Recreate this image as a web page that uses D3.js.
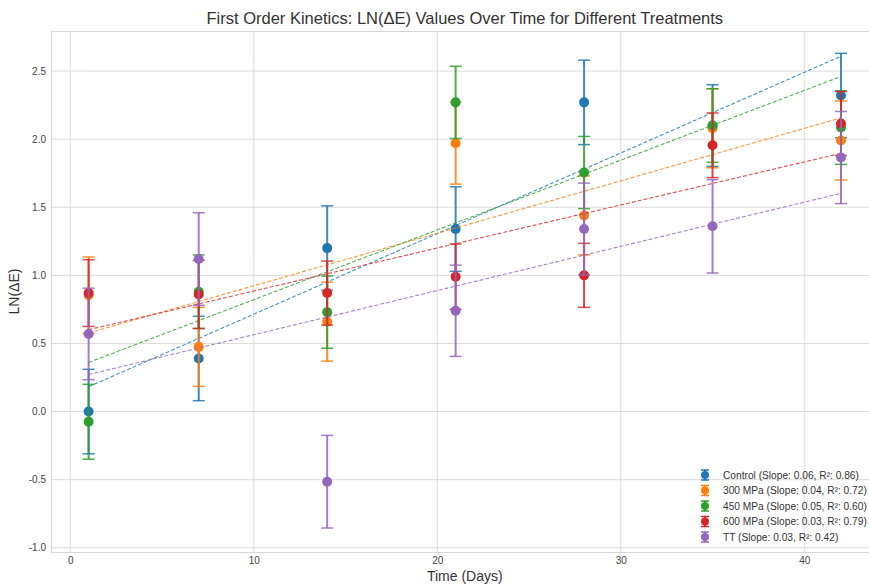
<!DOCTYPE html>
<html>
<head>
<meta charset="utf-8">
<script src="https://cdn.jsdelivr.net/npm/d3@7"></script>
<style>
  body { margin: 0; background: #fff; }
  text { font-family: "Liberation Sans", Arial, sans-serif; }
</style>
</head>
<body>
<svg id="chart" width="869" height="586"></svg>
<script>
// Sampling days and treatments
const days = [1, 7, 14, 21, 28, 35, 42];
const seriesNames = ["Control", "300 MPa", "450 MPa", "600 MPa", "TT"];
const seriesColors = ["#1f77b4", "#ff7f0e", "#2ca02c", "#d62728", "#9467bd"];

// LN(ΔE) means per treatment
const controlValues = [0.00, 0.39, 1.20, 1.34, 2.27, 2.10, 2.32];
const mpa300Values  = [0.855, 0.475, 0.66, 1.97, 1.44, 2.08, 1.99];
const mpa450Values  = [-0.075, 0.88, 0.73, 2.27, 1.755, 2.10, 2.085];
const mpa600Values  = [0.87, 0.86, 0.87, 0.99, 1.00, 1.955, 2.115];
const ttValues      = [0.57, 1.12, -0.515, 0.74, 1.34, 1.36, 1.865];

// Standard deviations per treatment
const controlErrors = [0.31, 0.31, 0.31, 0.31, 0.31, 0.30, 0.31];
const mpa300Errors  = [0.28, 0.29, 0.29, 0.30, 0.29, 0.29, 0.29];
const mpa450Errors  = [0.275, 0.27, 0.265, 0.265, 0.265, 0.27, 0.27];
const mpa600Errors  = [0.245, 0.25, 0.235, 0.24, 0.235, 0.237, 0.235];
const ttErrors      = [0.336, 0.34, 0.34, 0.335, 0.337, 0.343, 0.338];

// Fit statistics shown in the legend
const slopeLabels = ["0.06", "0.04", "0.05", "0.03", "0.03"];
const r2Labels    = ["0.86", "0.72", "0.60", "0.79", "0.42"];

// Axis ticks
const xTicks = [0, 10, 20, 30, 40];
const yTicks = [-1.0, -0.5, 0.0, 0.5, 1.0, 1.5, 2.0, 2.5];

const allValues = [controlValues, mpa300Values, mpa450Values, mpa600Values, ttValues];
const allErrors = [controlErrors, mpa300Errors, mpa450Errors, mpa600Errors, ttErrors];

const series = seriesNames.map((name, i) => ({
  name,
  color: seriesColors[i],
  slope: slopeLabels[i],
  r2: r2Labels[i],
  points: days.map((d, j) => ({ day: d, value: allValues[i][j], err: allErrors[i][j] }))
}));

// Least-squares line through a series
function linearFit(pts) {
  const mx = d3.mean(pts, p => p.day), my = d3.mean(pts, p => p.value);
  let sxy = 0, sxx = 0;
  pts.forEach(p => { sxy += (p.day - mx) * (p.value - my); sxx += (p.day - mx) ** 2; });
  const b = sxy / sxx;
  return { b, a: my - b * mx };
}

const svg = d3.select("#chart");
const plot = { left: 51, top: 31, right: 878.6, bottom: 552 };

const x = d3.scaleLinear().domain([-1.05, 44.05]).range([plot.left, plot.right]);
const y = d3.scaleLinear().domain([-1.031, 2.794]).range([plot.bottom, plot.top]);

svg.append("defs").append("clipPath").attr("id", "plotClip")
  .append("rect")
  .attr("x", plot.left).attr("y", plot.top)
  .attr("width", plot.right - plot.left).attr("height", plot.bottom - plot.top);

// Grid
const grid = svg.append("g").attr("clip-path", "url(#plotClip)");
grid.selectAll(".vgrid").data(xTicks).join("line")
  .attr("x1", d => x(d)).attr("x2", d => x(d))
  .attr("y1", plot.top).attr("y2", plot.bottom)
  .attr("stroke", "#dcdcdc").attr("stroke-width", 1);
grid.selectAll(".hgrid").data(yTicks).join("line")
  .attr("y1", d => y(d)).attr("y2", d => y(d))
  .attr("x1", plot.left).attr("x2", plot.right)
  .attr("stroke", "#dcdcdc").attr("stroke-width", 1);

// Frame
svg.append("rect")
  .attr("x", plot.left + 0.5).attr("y", plot.top + 0.5)
  .attr("width", plot.right - plot.left).attr("height", plot.bottom - plot.top)
  .attr("fill", "none").attr("stroke", "#d6d6d6").attr("stroke-width", 1);

// Axes (labels only, no tick marks)
const xAxis = svg.append("g")
  .attr("transform", `translate(0,${plot.bottom})`)
  .call(d3.axisBottom(x).tickValues(xTicks).tickFormat(d3.format("d")).tickSize(0).tickPadding(5));
const yAxis = svg.append("g")
  .attr("transform", `translate(${plot.left},0)`)
  .call(d3.axisLeft(y).tickValues(yTicks).tickFormat(d => d3.format(".1f")(d).replace("−", "-")).tickSize(0).tickPadding(5));
[xAxis, yAxis].forEach(a => {
  a.select(".domain").remove();
  a.selectAll("text").attr("fill", "#444").attr("font-size", "10px")
    .attr("font-family", "'Liberation Sans', Arial, sans-serif");
});

// Data layers
const layer = svg.append("g").attr("clip-path", "url(#plotClip)");
const capHalf = 6;

series.forEach(s => {
  const g = layer.append("g");
  // error bars
  g.selectAll(".bar").data(s.points).join("line")
    .attr("x1", p => x(p.day)).attr("x2", p => x(p.day))
    .attr("y1", p => y(p.value - p.err)).attr("y2", p => y(p.value + p.err))
    .attr("stroke", s.color).attr("stroke-width", 2).attr("opacity", 0.85);
  ["lo", "hi"].forEach(k => {
    g.selectAll(".cap-" + k).data(s.points).join("line")
      .attr("x1", p => x(p.day) - capHalf).attr("x2", p => x(p.day) + capHalf)
      .attr("y1", p => y(k === "lo" ? p.value - p.err : p.value + p.err))
      .attr("y2", p => y(k === "lo" ? p.value - p.err : p.value + p.err))
      .attr("stroke", s.color).attr("stroke-width", 1.5).attr("opacity", 0.85);
  });
  // markers
  g.selectAll(".pt").data(s.points).join("circle")
    .attr("cx", p => x(p.day)).attr("cy", p => y(p.value)).attr("r", 5)
    .attr("fill", s.color);
  // fitted trend line
  const fit = linearFit(s.points);
  const x0 = d3.min(days), x1 = d3.max(days);
  g.append("line")
    .attr("x1", x(x0)).attr("y1", y(fit.a + fit.b * x0))
    .attr("x2", x(x1)).attr("y2", y(fit.a + fit.b * x1))
    .attr("stroke", s.color).attr("stroke-width", 1.1)
    .attr("stroke-dasharray", "4,2").attr("opacity", 0.8);
});

// Title and axis labels
svg.append("text")
  .attr("x", (plot.left + plot.right) / 2).attr("y", 24)
  .attr("text-anchor", "middle").attr("font-size", "16.5px").attr("fill", "#333")
  .text("First Order Kinetics: LN(ΔE) Values Over Time for Different Treatments");
svg.append("text")
  .attr("x", (plot.left + plot.right) / 2).attr("y", 581)
  .attr("text-anchor", "middle").attr("font-size", "14px").attr("fill", "#333")
  .text("Time (Days)");
svg.append("text")
  .attr("transform", `translate(19,${(plot.top + plot.bottom) / 2}) rotate(-90)`)
  .attr("text-anchor", "middle").attr("font-size", "14px").attr("fill", "#333")
  .text("LN(ΔE)");

// Legend
const legend = svg.append("g").attr("transform", "translate(705,475)");
const rowH = 15.5;
series.forEach((s, i) => {
  const row = legend.append("g").attr("transform", `translate(0,${i * rowH})`);
  row.append("line").attr("x1", 0).attr("x2", 0).attr("y1", -5).attr("y2", 5)
    .attr("stroke", s.color).attr("stroke-width", 2);
  [-5, 5].forEach(cy => row.append("line")
    .attr("x1", -4).attr("x2", 4).attr("y1", cy).attr("y2", cy)
    .attr("stroke", s.color).attr("stroke-width", 1.5));
  row.append("circle").attr("r", 4).attr("fill", s.color);
  row.append("text").attr("x", 18).attr("y", 0).attr("dy", "0.35em")
    .attr("font-size", "10.2px").attr("fill", "#333")
    .text(`${s.name} (Slope: ${s.slope}, R²: ${s.r2})`);
});
</script>
</body>
</html>
